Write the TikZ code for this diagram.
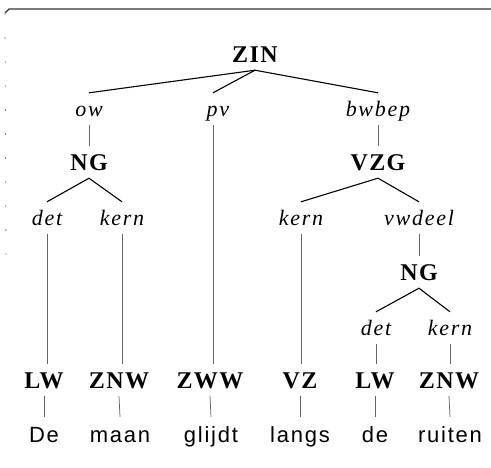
\documentclass[tikz,border=0pt]{standalone}
\usepackage{fontspec}
\setmainfont{Liberation Serif}
\newfontfamily\catfont[LetterSpace=6]{Liberation Serif}
\newfontfamily\rolefont[LetterSpace=8]{Liberation Serif}
\newfontfamily\wordfont[LetterSpace=8]{Liberation Sans}
\begin{document}
\begin{tikzpicture}[x=1pt,y=-1pt,
  cat/.style={anchor=base,inner xsep=0pt,inner ysep=8pt,text height=16pt,text depth=0pt,
    font=\catfont\bfseries\fontsize{24}{24}\selectfont},
  role/.style={anchor=base,inner xsep=0pt,inner ysep=9pt,text height=14pt,text depth=0pt,
    font=\rolefont\itshape\fontsize{22}{22}\selectfont},
  word/.style={anchor=base,inner xsep=0pt,inner ysep=9pt,text height=16pt,text depth=0pt,
    font=\wordfont\fontsize{22}{22}\selectfont},
  branch/.style={line width=1.1pt,black},
  stem/.style={line width=0.75pt,black!60},
  frame/.style={line width=1.1pt,black!80}]
\useasboundingbox (0,0) rectangle (491,467);

% frame remnants
\coordinate (tl) at (5,13);
\coordinate (tc) at (9,9);
\coordinate (tr) at (491,9);
\coordinate (bl) at (6,265);
\draw[frame] (tl) -- (tc) -- (tr);
\draw[black!45,line width=0.8pt,dash pattern=on 2pt off 22pt] (tl) -- (bl);

% categories
\node[cat] (zin) at (255,62) {ZIN};
\node[cat] (ng1) at (89,170) {NG};
\node[cat] (vzg) at (378,170) {VZG};
\node[cat] (ng2) at (419,280) {NG};
\node[cat] (lw1) at (44,388) {LW};
\node[cat] (znw1) at (119,388) {ZNW};
\node[cat] (zww) at (210,388) {ZWW};
\node[cat] (vz) at (300,388) {VZ};
\node[cat] (lw2) at (375,388) {LW};
\node[cat] (znw2) at (449,388) {ZNW};

% functions
\node[role] (ow) at (89,116) {ow};
\node[role] (pv) at (218,116) {pv};
\node[role] (bwbep) at (378,116) {bwbep};
\node[role] (det1) at (47,225) {det};
\node[role] (kern1) at (122,225) {kern};
\node[role] (kern2) at (301,225) {kern};
\node[role] (vwdeel) at (419,225) {vwdeel};
\node[role] (det2) at (376,335) {det};
\node[role] (kern3) at (450,335) {kern};

% the pv line sits under the p, left of the label's centre
\coordinate (pvhead) at ([xshift=-5pt]pv.north);
\coordinate (pvfoot) at ([xshift=-5pt]pv.south);

% words
\node[word] (w1) at (44,442) {De};
\node[word] (w2) at (120,442) {maan};
\node[word] (w3) at (211,442) {glijdt};
\node[word] (w4) at (300,442) {langs};
\node[word] (w5) at (375,442) {de};
\node[word] (w6) at (450,442) {ruiten};

% branches
\draw[branch] (ow.north) -- (zin.south) -- (bwbep.north);
\draw[branch] (zin.south) -- (pvhead);
\draw[branch] (det1.north) -- (ng1.south) -- (kern1.north);
\draw[branch] (kern2.north) -- (vzg.south) -- (vwdeel.north);
\draw[branch] (det2.north) -- (ng2.south) -- (kern3.north);

% stems
\draw[stem] (ow.south) -- (ng1.north);
\draw[stem] (bwbep.south) -- (vzg.north);
\draw[stem] (vwdeel.south) -- (ng2.north);
\draw[stem] (pvfoot) -- (pvfoot |- zww.north);
\draw[stem] (det1.south) -- (det1.south |- lw1.north);
\draw[stem] (kern1.south) -- (kern1.south |- znw1.north);
\draw[stem] (kern2.south) -- (kern2.south |- vz.north);
\draw[stem] (det2.south) -- (det2.south |- lw2.north);
\draw[stem] (kern3.south) -- (kern3.south |- znw2.north);
\draw[stem] (lw1.south) -- (w1.north);
\draw[stem] (znw1.south) -- (w2.north);
\draw[stem] (zww.south) -- (w3.north);
\draw[stem] (vz.south) -- (w4.north);
\draw[stem] (lw2.south) -- (w5.north);
\draw[stem] (znw2.south) -- (w6.north);
\end{tikzpicture}
\end{document}
